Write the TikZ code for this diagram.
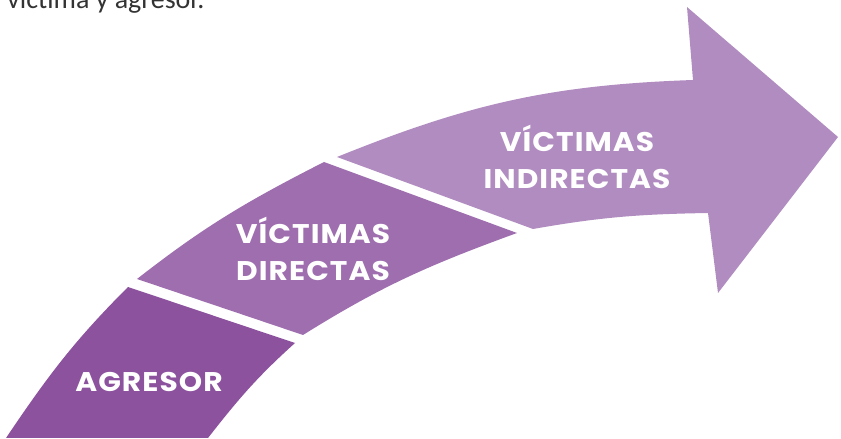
\documentclass[tikz,border=0pt]{standalone}
\usepackage{fontspec}
\newfontfamily\stagefont{Poppins}[LetterSpace = 4, FakeStretch = 1.1]
\newfontfamily\bodyfont{Carlito}
\usepackage{tikz}
\usetikzlibrary{positioning}
\definecolor{agresorcol}{HTML}{8C529E}
\definecolor{directcol}{HTML}{9E6EAF}
\definecolor{indirectcol}{HTML}{B18CC0}
\definecolor{bodygray}{HTML}{333333}

\begin{document}
\begin{tikzpicture}[x = 1pt, y = 1pt, stage/.style={text = white, font = \stagefont\bfseries\fontsize{27}{37}\selectfont, align = center}]
  \clip (0,0) rectangle (841,439);

  % caption cut off at the top
  \node [anchor = base west, inner sep = 0, text = bodygray, font = \bodyfont\fontsize{28}{34}\selectfont] (caption) at (7,430) {víctima y agresor.};

  % band pieces
  \fill [agresorcol] (6,1) to [out = 56, in = 225] (128,152) -- (295,96) to [out = 222, in = 52] (208,1) -- cycle;
  \fill [directcol] (137,160) to [out = 38, in = 207] (324,277) -- (517,206) to [out = 200, in = 32] (303,104) -- cycle;
  \fill [indirectcol] (337,282) to [out = 22, in = 182] (693,359) -- (687,432) -- (838,302) -- (718,146) -- (708,226) to [out = 181, in = 10] (533,210) -- cycle;

  % nodes
  \node [stage] (agresor) at (149,57) {AGRESOR};
  \node [stage] (directas) at (313,190) {VÍCTIMAS\\DIRECTAS};
  \node [stage] (indirectas) at (577,282) {VÍCTIMAS\\INDIRECTAS};
\end{tikzpicture}
\end{document}
